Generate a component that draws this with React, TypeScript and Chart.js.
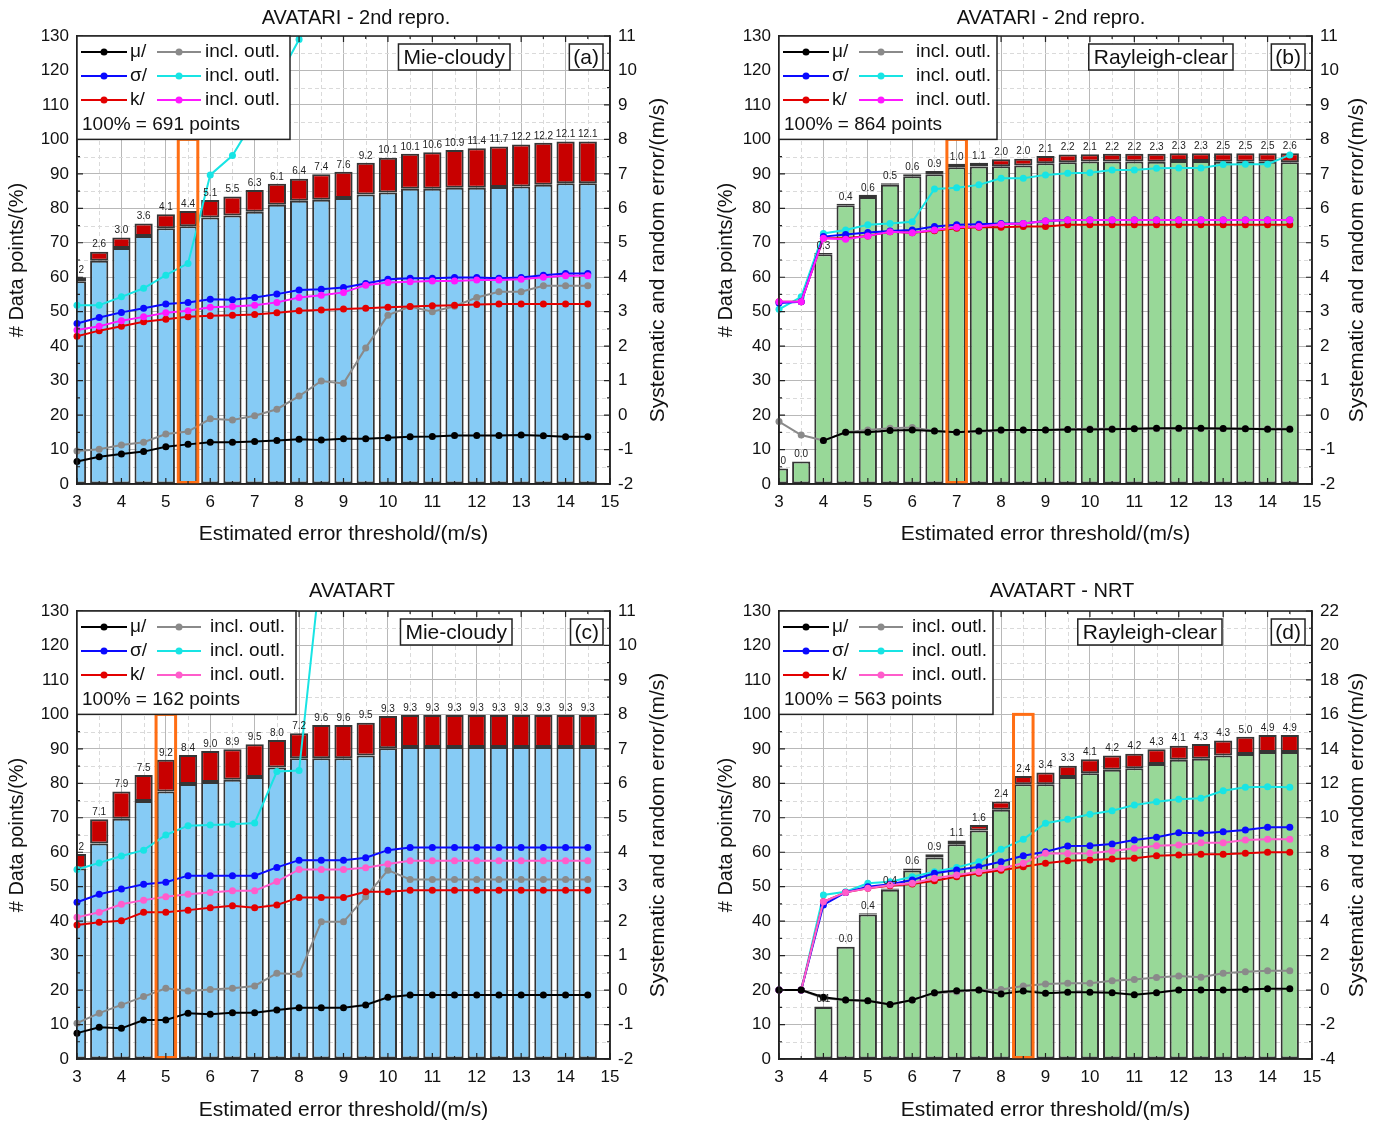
import React, { useEffect, useRef } from "react";
import { Chart, registerables } from "chart.js";

Chart.register(...registerables);

const FONT = "'Liberation Sans', Arial, Helvetica, sans-serif";

// Estimated error thresholds (m/s) – bar / point positions
const thresholds = [3, 3.5, 4, 4.5, 5, 5.5, 6, 6.5, 7, 7.5, 8, 8.5, 9, 9.5, 10, 10.5, 11, 11.5, 12, 12.5, 13, 13.5, 14, 14.5];

// ---------- Panel (a) AVATARI - 2nd repro., Mie-cloudy ----------
const aInlier = [58.8, 64.8, 68.5, 72.0, 74.2, 74.8, 77.3, 77.9, 79.0, 81.0, 82.2, 82.5, 83.0, 84.0, 84.6, 85.7, 85.7, 86.0, 86.0, 86.2, 86.3, 86.8, 87.3, 87.3];
const aOutlier = [1.2, 2.6, 3.0, 3.6, 4.1, 4.4, 5.1, 5.5, 6.3, 6.1, 6.4, 7.4, 7.6, 9.2, 10.1, 10.1, 10.6, 10.9, 11.4, 11.7, 12.2, 12.2, 12.1, 12.1];
const aMu = [-1.35, -1.21, -1.13, -1.06, -0.92, -0.85, -0.79, -0.79, -0.77, -0.74, -0.70, -0.72, -0.69, -0.69, -0.66, -0.63, -0.62, -0.59, -0.59, -0.59, -0.58, -0.60, -0.63, -0.63];
const aMuOut = [-1.04, -0.99, -0.87, -0.79, -0.55, -0.48, -0.11, -0.14, -0.02, 0.17, 0.55, 0.99, 0.92, 1.95, 2.90, 3.15, 3.00, 3.16, 3.41, 3.58, 3.58, 3.75, 3.75, 3.75];
const aSigma = [2.66, 2.83, 2.98, 3.10, 3.22, 3.27, 3.36, 3.35, 3.41, 3.51, 3.63, 3.65, 3.70, 3.82, 3.94, 3.97, 3.97, 3.99, 3.99, 3.97, 3.99, 4.06, 4.11, 4.11];
const aSigmaOut = [3.19, 3.19, 3.43, 3.68, 4.06, 4.40, 6.97, 7.53, 8.60, 9.70, 10.90, 12.20, null, null, null, null, null, null, null, null, null, null, null, null];
const aK = [2.29, 2.45, 2.58, 2.71, 2.78, 2.85, 2.88, 2.90, 2.92, 2.97, 3.03, 3.05, 3.08, 3.10, 3.13, 3.15, 3.17, 3.19, 3.21, 3.22, 3.22, 3.22, 3.22, 3.22];
const aKOut = [2.47, 2.58, 2.74, 2.85, 2.97, 3.03, 3.13, 3.15, 3.19, 3.27, 3.41, 3.48, 3.56, 3.77, 3.85, 3.87, 3.89, 3.89, 3.92, 3.92, 3.94, 4.00, 4.04, 4.04];

// ---------- Panel (b) AVATARI - 2nd repro., Rayleigh-clear ----------
const bInlier = [4.5, 6.5, 66.7, 80.9, 83.3, 86.8, 89.3, 89.9, 91.9, 92.1, 92.2, 92.4, 93.1, 93.4, 93.6, 93.6, 93.6, 93.5, 93.7, 93.7, 93.5, 93.5, 93.5, 93.4];
const bOutlier = [0.0, 0.0, 0.3, 0.4, 0.6, 0.5, 0.6, 0.9, 1.0, 1.1, 2.0, 2.0, 2.1, 2.2, 2.1, 2.2, 2.2, 2.3, 2.3, 2.3, 2.5, 2.5, 2.5, 2.6];
const bMu = [null, null, -0.74, -0.50, -0.50, -0.45, -0.43, -0.46, -0.50, -0.46, -0.43, -0.43, -0.43, -0.42, -0.42, -0.41, -0.40, -0.38, -0.38, -0.38, -0.39, -0.40, -0.41, -0.41];
const bMuOut = [-0.19, -0.58, -0.74, -0.50, -0.43, -0.38, -0.36, -0.46, -0.50, -0.48, -0.45, -0.43, -0.43, -0.41, -0.40, -0.40, -0.40, -0.40, -0.40, -0.40, -0.40, -0.40, -0.40, -0.40];
const bSigma = [3.25, 3.29, 5.18, 5.24, 5.30, 5.34, 5.37, 5.47, 5.52, 5.54, 5.56, 5.56, 5.63, 5.66, 5.66, 5.66, 5.66, 5.66, 5.66, 5.66, 5.66, 5.66, 5.66, 5.66];
const bSigmaOut = [3.07, 3.43, 5.27, 5.37, 5.52, 5.56, 5.61, 6.56, 6.60, 6.68, 6.87, 6.87, 6.97, 7.02, 7.03, 7.11, 7.11, 7.16, 7.17, 7.17, 7.27, 7.28, 7.28, 7.55];
const bK = [3.29, 3.29, 5.13, 5.13, 5.20, 5.32, 5.29, 5.35, 5.42, 5.45, 5.45, 5.47, 5.47, 5.52, 5.52, 5.52, 5.52, 5.52, 5.52, 5.52, 5.52, 5.52, 5.52, 5.52];
const bKOut = [3.29, 3.29, 5.13, 5.10, 5.20, 5.32, 5.29, 5.37, 5.45, 5.47, 5.54, 5.56, 5.63, 5.66, 5.66, 5.66, 5.66, 5.66, 5.66, 5.66, 5.66, 5.66, 5.66, 5.66];

// ---------- Panel (c) AVATART, Mie-cloudy ----------
const cInlier = [55.3, 62.5, 69.7, 74.9, 77.6, 79.8, 80.4, 81.0, 81.8, 84.6, 87.3, 87.3, 87.3, 88.1, 90.2, 90.5, 90.5, 90.5, 90.5, 90.5, 90.5, 90.5, 90.5, 90.5];
const cOutlier = [4.2, 7.1, 7.9, 7.5, 9.2, 8.4, 9.0, 8.9, 9.5, 8.0, 7.2, 9.6, 9.6, 9.5, 9.3, 9.3, 9.3, 9.3, 9.3, 9.3, 9.3, 9.3, 9.3, 9.3];
const cMu = [-1.25, -1.08, -1.11, -0.87, -0.87, -0.67, -0.70, -0.66, -0.66, -0.58, -0.51, -0.51, -0.51, -0.43, -0.21, -0.14, -0.14, -0.14, -0.14, -0.14, -0.14, -0.14, -0.14, -0.14];
const cMuOut = [-0.96, -0.67, -0.43, -0.19, 0.05, -0.03, 0.02, 0.05, 0.12, 0.49, 0.46, 1.98, 1.98, 2.71, 3.48, 3.21, 3.21, 3.21, 3.21, 3.21, 3.21, 3.21, 3.21, 3.21];
const cSigma = [2.55, 2.78, 2.93, 3.07, 3.13, 3.32, 3.32, 3.32, 3.32, 3.56, 3.77, 3.77, 3.77, 3.84, 4.06, 4.14, 4.14, 4.14, 4.14, 4.14, 4.14, 4.14, 4.14, 4.14];
const cSigmaOut = [3.50, 3.69, 3.89, 4.06, 4.50, 4.77, 4.79, 4.81, 4.85, 6.34, 6.37, 12.4, null, null, null, null, null, null, null, null, null, null, null, null];
const cK = [1.89, 1.97, 2.01, 2.26, 2.26, 2.32, 2.39, 2.45, 2.39, 2.47, 2.69, 2.69, 2.69, 2.85, 2.85, 2.90, 2.90, 2.90, 2.90, 2.90, 2.90, 2.90, 2.90, 2.90];
const cKOut = [2.11, 2.26, 2.49, 2.61, 2.71, 2.78, 2.83, 2.88, 2.88, 3.15, 3.50, 3.50, 3.50, 3.55, 3.66, 3.75, 3.75, 3.75, 3.75, 3.75, 3.75, 3.75, 3.75, 3.75];

// ---------- Panel (d) AVATART - NRT, Rayleigh-clear ----------
const dInlier = [null, null, 15.1, 32.6, 41.9, 49.1, 54.7, 58.5, 62.3, 66.3, 72.3, 79.7, 79.7, 81.8, 82.9, 83.9, 84.4, 85.6, 86.8, 87.1, 88.1, 88.5, 89.1, 89.1];
const dOutlier = [null, null, 0.1, 0.0, 0.4, 0.4, 0.6, 0.9, 1.1, 1.6, 2.4, 2.4, 3.4, 3.3, 4.1, 4.2, 4.2, 4.3, 4.1, 4.3, 4.3, 5.0, 4.9, 4.9];
const dMu = [0, 0, -0.42, -0.58, -0.62, -0.83, -0.58, -0.15, -0.04, 0.00, -0.23, -0.06, -0.19, -0.12, -0.12, -0.15, -0.27, -0.15, 0.00, 0.00, 0.00, 0.04, 0.08, 0.08];
const dMuOut = [0, 0, -0.47, -0.58, -0.62, -0.83, -0.58, -0.19, -0.10, 0.00, 0.04, 0.24, 0.35, 0.39, 0.39, 0.54, 0.62, 0.73, 0.82, 0.75, 0.97, 1.07, 1.12, 1.12];
const dSigma = [0, 0, 4.94, 5.67, 6.00, 6.14, 6.39, 6.78, 6.97, 7.16, 7.45, 7.80, 8.03, 8.36, 8.38, 8.48, 8.71, 8.87, 9.13, 9.10, 9.19, 9.29, 9.45, 9.45];
const dSigmaOut = [0, 0, 5.52, 5.71, 6.20, 6.29, 6.58, 6.87, 7.12, 7.45, 8.17, 8.75, 9.68, 9.91, 10.20, 10.41, 10.74, 10.93, 11.07, 11.13, 11.57, 11.77, 11.80, 11.77];
const dK = [0, 0, 5.13, 5.67, 5.91, 6.05, 6.15, 6.35, 6.58, 6.78, 6.95, 7.16, 7.36, 7.51, 7.55, 7.61, 7.65, 7.80, 7.84, 7.88, 7.88, 7.94, 8.00, 8.00];
const dKOut = [0, 0, 5.13, 5.67, 5.91, 6.10, 6.20, 6.49, 6.68, 6.87, 7.07, 7.36, 7.94, 7.92, 7.94, 8.07, 8.23, 8.38, 8.42, 8.55, 8.55, 8.71, 8.75, 8.75];

type Arr = (number | null)[];
type Panel = {
  tag: string; title: string; mode: string; points: number;
  inlier: Arr; outlier: Arr; mu: Arr; muOut: Arr; sigma: Arr; sigmaOut: Arr; k: Arr; kOut: Arr;
  barColor: string; kOutColor: string; highlight: number;
  y2min: number; y2max: number; y2step: number;
  ox: number; oy: number; top: number; yW: number; y2W: number; xH: number;
  xTitlePad: number; yTitlePad: number; rTitleOff: number;
  titleX: number; titleY: number; legendW: number; inclX: number; modeRight: number;
};

const COLORS = { mu: "#000000", muOut: "#8a8a8a", sigma: "#0a0aff", sigmaOut: "#18e4e4", k: "#e30000" };

const panels: Panel[] = [
  {
    tag: "(a)", title: "AVATARI - 2nd repro.", mode: "Mie-cloudy", points: 691,
    inlier: aInlier, outlier: aOutlier, mu: aMu, muOut: aMuOut, sigma: aSigma, sigmaOut: aSigmaOut, k: aK, kOut: aKOut,
    barColor: "#86cbf5", kOutColor: "#ff18ff", highlight: 5.5, y2min: -2, y2max: 11, y2step: 1,
    ox: 0, oy: 0, top: 36, yW: 77, y2W: 82, xH: 78, xTitlePad: 15, yTitlePad: 5, rTitleOff: 48,
    titleX: 356, titleY: 18, legendW: 213, inclX: 128, modeRight: 100,
  },
  {
    tag: "(b)", title: "AVATARI - 2nd repro.", mode: "Rayleigh-clear", points: 864,
    inlier: bInlier, outlier: bOutlier, mu: bMu, muOut: bMuOut, sigma: bSigma, sigmaOut: bSigmaOut, k: bK, kOut: bKOut,
    barColor: "#98d898", kOutColor: "#ff18ff", highlight: 7, y2min: -2, y2max: 11, y2step: 1,
    ox: 692, oy: 0, top: 36, yW: 87, y2W: 72, xH: 78, xTitlePad: 15, yTitlePad: 22, rTitleOff: 45,
    titleX: 359, titleY: 18, legendW: 218, inclX: 137, modeRight: 79,
  },
  {
    tag: "(c)", title: "AVATART", mode: "Mie-cloudy", points: 162,
    inlier: cInlier, outlier: cOutlier, mu: cMu, muOut: cMuOut, sigma: cSigma, sigmaOut: cSigmaOut, k: cK, kOut: cKOut,
    barColor: "#86cbf5", kOutColor: "#ff5ccb", highlight: 5, y2min: -2, y2max: 11, y2step: 1,
    ox: 0, oy: 562, top: 49, yW: 77, y2W: 82, xH: 65, xTitlePad: 1, yTitlePad: 5, rTitleOff: 48,
    titleX: 352, titleY: 29, legendW: 219, inclX: 133, modeRight: 98,
  },
  {
    tag: "(d)", title: "AVATART - NRT", mode: "Rayleigh-clear", points: 563,
    inlier: dInlier, outlier: dOutlier, mu: dMu, muOut: dMuOut, sigma: dSigma, sigmaOut: dSigmaOut, k: dK, kOut: dKOut,
    barColor: "#98d898", kOutColor: "#ff5ccb", highlight: 8.5, y2min: -4, y2max: 22, y2step: 2,
    ox: 692, oy: 562, top: 49, yW: 87, y2W: 72, xH: 65, xTitlePad: 1, yTitlePad: 22, rTitleOff: 45,
    titleX: 370, titleY: 29, legendW: 214, inclX: 133, modeRight: 90,
  },
];

function makeConfig(p: Panel): any {
  const pts = (arr: Arr) => thresholds.map((x, i) => ({ x, y: arr[i] }));
  const lineDs = (label: string, arr: Arr, color: string, order: number) => ({
    type: "line", label, data: pts(arr), yAxisID: "y2", xAxisID: "x",
    borderColor: color, backgroundColor: color, pointBackgroundColor: color, pointBorderColor: color,
    borderWidth: 2, pointRadius: 3.5, pointBorderWidth: 0, tension: 0, order, spanGaps: false,
    clip: { left: 6, right: 6, top: 0, bottom: 6 },
  });
  const barDs = (label: string, arr: Arr, color: string) => ({
    type: "bar", label, data: pts(arr), yAxisID: "y", xAxisID: "x", stack: "bars",
    backgroundColor: color, borderColor: "#353535", borderWidth: 2, borderSkipped: false,
    barPercentage: 0.82, categoryPercentage: 1, order: 20,
  });
  const tickFont = { family: FONT, size: 17 };

  const decor = {
    id: "decor",
    beforeDatasetsDraw(chart: any) {
      const { ctx, chartArea: ca, scales } = chart;
      const x = scales.x, y = scales.y;
      ctx.save();
      ctx.strokeStyle = "#dadada";
      ctx.lineWidth = 1;
      ctx.setLineDash([4, 3]);
      for (let v = 3.5; v < 15; v += 1) {
        const px = Math.round(x.getPixelForValue(v)) + 0.5;
        ctx.beginPath(); ctx.moveTo(px, ca.top); ctx.lineTo(px, ca.bottom); ctx.stroke();
      }
      for (let v = 5; v < 130; v += 10) {
        const py = Math.round(y.getPixelForValue(v)) + 0.5;
        ctx.beginPath(); ctx.moveTo(ca.left, py); ctx.lineTo(ca.right, py); ctx.stroke();
      }
      ctx.restore();
    },
    afterDatasetsDraw(chart: any) {
      const { ctx, chartArea: ca, scales } = chart;
      const x = scales.x, y = scales.y;
      ctx.save();
      ctx.beginPath(); ctx.rect(ca.left, ca.top, ca.right - ca.left, ca.bottom - ca.top); ctx.clip();
      ctx.font = `10px ${FONT}`;
      ctx.fillStyle = "#222";
      ctx.textAlign = "center";
      ctx.textBaseline = "bottom";
      const meta = chart.getDatasetMeta(1);
      meta.data.forEach((el: any, i: number) => {
        const v = p.outlier[i];
        if (v === null || v === undefined) return;
        ctx.fillText(v.toFixed(1), el.x, el.y - 2);
      });
      ctx.restore();
      ctx.save();
      const hx0 = x.getPixelForValue(p.highlight - 0.22);
      const hx1 = x.getPixelForValue(p.highlight + 0.22);
      const hy0 = y.getPixelForValue(100);
      const hy1 = y.getPixelForValue(0);
      ctx.strokeStyle = "#ff6e14";
      ctx.lineWidth = 3;
      ctx.strokeRect(hx0, hy0, hx1 - hx0, hy1 - hy0 - 1.5);
      ctx.restore();
    },
    afterDraw(chart: any) {
      const { ctx, chartArea: ca, scales } = chart;
      const x = scales.x, y = scales.y;
      ctx.save();
      ctx.strokeStyle = "#222";
      ctx.lineWidth = 1.5;
      ctx.strokeRect(ca.left, ca.top, ca.right - ca.left, ca.bottom - ca.top);
      ctx.lineWidth = 1.2;
      for (let v = 3; v <= 15.001; v += 0.5) {
        const px = x.getPixelForValue(v);
        const len = Math.abs(v - Math.round(v)) < 0.01 ? 6 : 3;
        ctx.beginPath();
        ctx.moveTo(px, ca.bottom); ctx.lineTo(px, ca.bottom - len);
        ctx.moveTo(px, ca.top); ctx.lineTo(px, ca.top + len);
        ctx.stroke();
      }
      for (let v = 0; v <= 130; v += 5) {
        const py = y.getPixelForValue(v);
        const len = v % 10 === 0 ? 6 : 3;
        ctx.beginPath();
        ctx.moveTo(ca.left, py); ctx.lineTo(ca.left + len, py);
        ctx.moveTo(ca.right, py); ctx.lineTo(ca.right - len, py);
        ctx.stroke();
      }
      const L = ca.left, T = ca.top;
      const lh = y.getPixelForValue(100) - T;
      ctx.fillStyle = "#fff";
      ctx.fillRect(L, T, p.legendW, lh);
      ctx.strokeStyle = "#222";
      ctx.lineWidth = 1.5;
      ctx.strokeRect(L, T, p.legendW, lh);
      const sample = (x0: number, x1: number, yy: number, c: string) => {
        ctx.strokeStyle = c; ctx.fillStyle = c; ctx.lineWidth = 2;
        ctx.beginPath(); ctx.moveTo(x0, yy); ctx.lineTo(x1, yy); ctx.stroke();
        ctx.beginPath(); ctx.arc((x0 + x1) / 2, yy, 3.5, 0, Math.PI * 2); ctx.fill();
      };
      const rows: [string, string, string][] = [
        ["\u03bc/", COLORS.mu, COLORS.muOut],
        ["\u03c3/", COLORS.sigma, COLORS.sigmaOut],
        ["k/", COLORS.k, p.kOutColor],
      ];
      ctx.font = `19px ${FONT}`;
      ctx.textBaseline = "middle";
      ctx.textAlign = "left";
      rows.forEach(([lab, c1, c2], r) => {
        const yy = T + 16 + r * 24;
        sample(L + 4, L + 50, yy, c1);
        ctx.fillStyle = "#111";
        ctx.fillText(lab, L + 53, yy);
        sample(L + 80, L + 124, yy, c2);
        ctx.fillStyle = "#111";
        ctx.fillText("incl. outl.", L + p.inclX, yy);
      });
      ctx.fillStyle = "#111";
      ctx.fillText(`100% = ${p.points} points`, L + 5, T + 89);
      ctx.font = `21px ${FONT}`;
      const boxT = T + 8, boxH = 26;
      const mw = ctx.measureText(p.mode).width + 10;
      const mx1 = ca.right - p.modeRight;
      ctx.fillStyle = "#fff";
      ctx.fillRect(mx1 - mw, boxT, mw, boxH);
      ctx.strokeStyle = "#222"; ctx.lineWidth = 1.5;
      ctx.strokeRect(mx1 - mw, boxT, mw, boxH);
      ctx.fillStyle = "#111";
      ctx.textAlign = "center";
      ctx.fillText(p.mode, mx1 - mw / 2, boxT + boxH / 2 + 1);
      const tw = ctx.measureText(p.tag).width + 8;
      const tx1 = ca.right - 7;
      ctx.fillStyle = "#fff";
      ctx.fillRect(tx1 - tw, boxT, tw, boxH);
      ctx.strokeRect(tx1 - tw, boxT, tw, boxH);
      ctx.fillStyle = "#111";
      ctx.fillText(p.tag, tx1 - tw / 2, boxT + boxH / 2 + 1);
      ctx.font = `20px ${FONT}`;
      ctx.fillText(p.title, p.titleX, p.titleY);
      ctx.translate(ca.right + p.rTitleOff, (ca.top + ca.bottom) / 2);
      ctx.rotate(-Math.PI / 2);
      ctx.font = `21px ${FONT}`;
      ctx.fillText("Systematic and random error/(m/s)", 0, 0);
      ctx.restore();
    },
  };

  return {
    type: "bar",
    data: {
      datasets: [
        barDs("inliers", p.inlier, p.barColor),
        barDs("outliers", p.outlier, "#c80000"),
        lineDs("\u03bc incl. outl.", p.muOut, COLORS.muOut, 7),
        lineDs("\u03c3 incl. outl.", p.sigmaOut, COLORS.sigmaOut, 6),
        lineDs("k", p.k, COLORS.k, 5),
        lineDs("\u03c3", p.sigma, COLORS.sigma, 4),
        lineDs("k incl. outl.", p.kOut, p.kOutColor, 3),
        lineDs("\u03bc", p.mu, COLORS.mu, 2),
      ],
    },
    options: {
      animation: false,
      responsive: false,
      maintainAspectRatio: false,
      layout: { padding: { top: p.top, left: 0, right: 0, bottom: 0 } },
      plugins: { legend: { display: false }, tooltip: { enabled: false }, title: { display: false } },
      scales: {
        x: {
          type: "linear", min: 3, max: 15, offset: false,
          ticks: { stepSize: 1, font: tickFont, color: "#111", padding: 8, maxRotation: 0, autoSkip: false },
          grid: { color: "#b8b8b8", lineWidth: 1, drawTicks: false, offset: false },
          border: { display: true, color: "#222", width: 1.5 },
          title: {
            display: true, text: "Estimated error threshold/(m/s)", color: "#111",
            font: { family: FONT, size: 21 }, padding: { top: 0, bottom: p.xTitlePad },
          },
          afterFit: (s: any) => { s.height = p.xH; },
        },
        y: {
          type: "linear", position: "left", min: 0, max: 130, stacked: true,
          ticks: { stepSize: 10, font: tickFont, color: "#111", padding: 8 },
          grid: { color: "#b8b8b8", lineWidth: 1, drawTicks: false },
          border: { display: true, color: "#222", width: 1.5 },
          title: {
            display: true, text: "# Data points/(%)", color: "#111",
            font: { family: FONT, size: 20 }, padding: { top: p.yTitlePad, bottom: 0 },
          },
          afterFit: (s: any) => { s.width = p.yW; },
        },
        y2: {
          type: "linear", position: "right", min: p.y2min, max: p.y2max,
          ticks: { stepSize: p.y2step, font: tickFont, color: "#111", padding: 8 },
          grid: { drawOnChartArea: false, drawTicks: false },
          border: { display: true, color: "#222", width: 1.5 },
          afterFit: (s: any) => { s.width = p.y2W; },
        },
      },
    },
    plugins: [decor],
  };
}

function PanelChart({ p }: { p: Panel }) {
  const ref = useRef<HTMLCanvasElement | null>(null);
  useEffect(() => {
    if (!ref.current) return;
    const chart = new Chart(ref.current, makeConfig(p));
    return () => chart.destroy();
  }, [p]);
  return (
    <canvas
      ref={ref}
      width={692}
      height={562}
      style={{ position: "absolute", left: p.ox, top: p.oy, width: 692, height: 562 }}
    />
  );
}

export default function App() {
  return (
    <div style={{ position: "absolute", left: 0, top: 0, width: 1384, height: 1124, background: "#ffffff" }}>
      {panels.map((p) => (
        <PanelChart key={p.tag} p={p} />
      ))}
    </div>
  );
}
